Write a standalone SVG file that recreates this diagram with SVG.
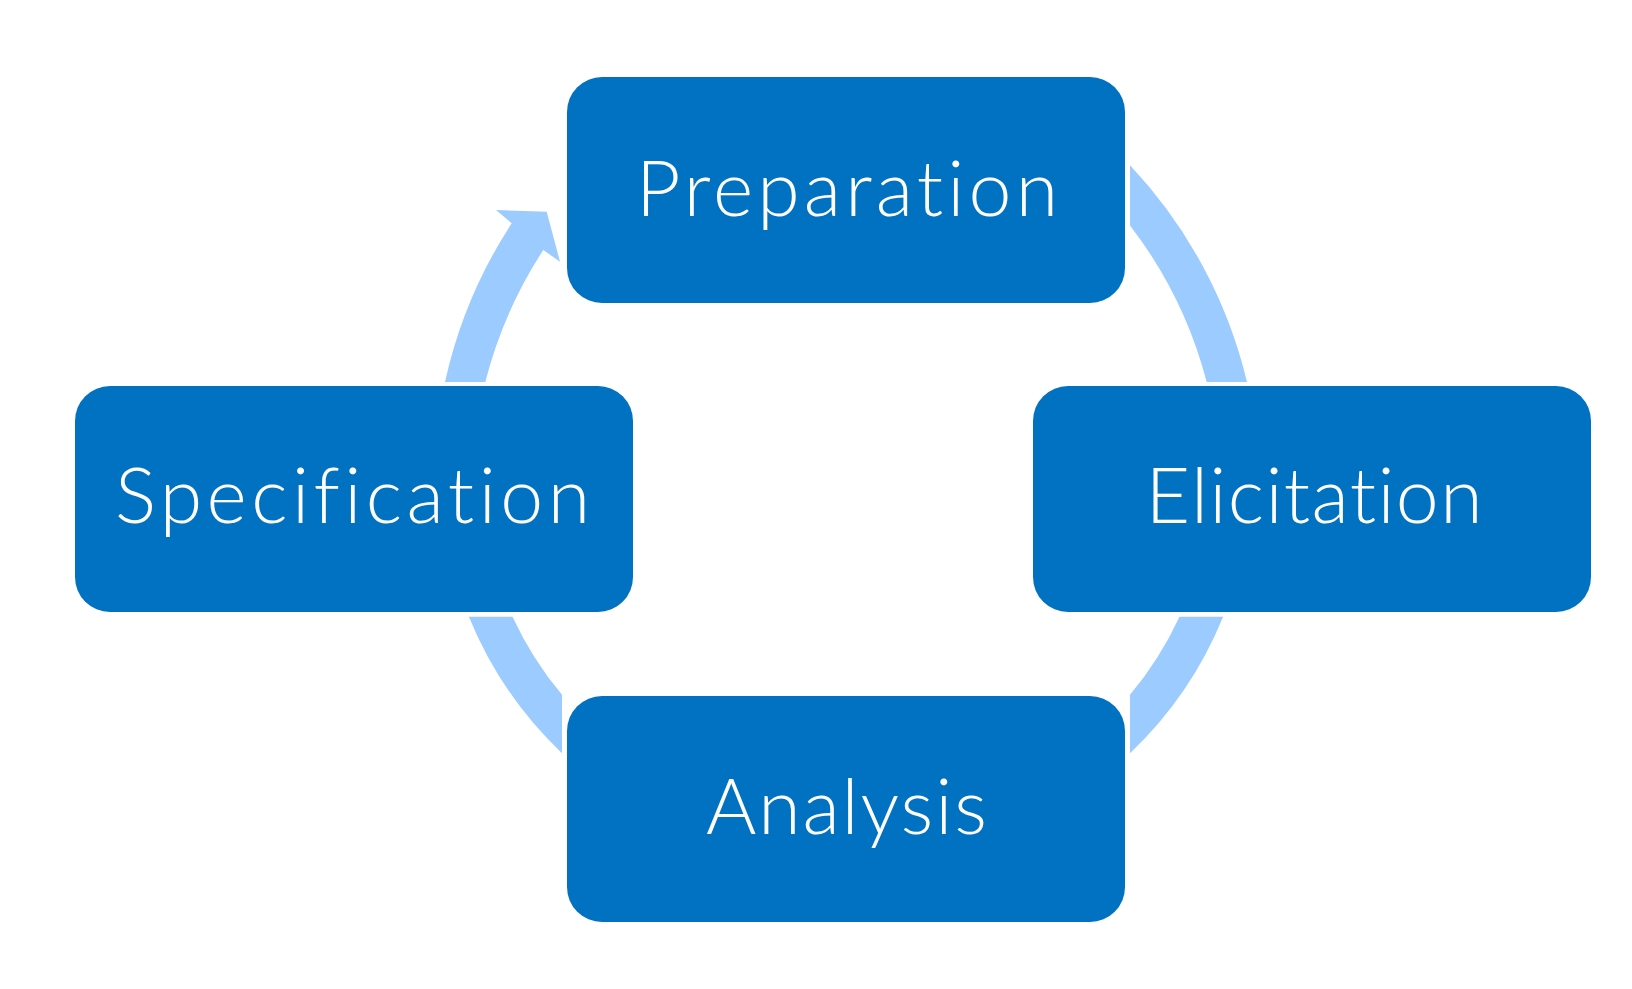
<svg xmlns="http://www.w3.org/2000/svg" width="1632" height="989" viewBox="0 0 1632 989">
  <style>
    .arc { fill: #9CCBFF; stroke: none; }
    .box { fill: #0171C1; stroke: #FFFFFF; stroke-width: 6; paint-order: stroke; }
    .lbl { fill: #FFFFFF; font-family: Lato, "Liberation Sans", Arial, sans-serif; font-weight: 300; font-size: 77px; text-anchor: middle; font-variant-ligatures: none; font-feature-settings: "liga" 0, "clig" 0; }
  </style>
  <rect x="0" y="0" width="1632" height="989" fill="#FFFFFF"/>
  <g id="connectors">
    <path class="arc" d="M 1130,165.3 A 478 478 0 0 1 1247,382 L 1206.7,382 A 439 439 0 0 0 1130,225.4 Z"/>
    <path class="arc" d="M 1223.1,616.7 A 392 392 0 0 1 1130,753.2 L 1130,694.8 A 352 352 0 0 0 1179.5,616.7 Z"/>
    <path class="arc" d="M 468.9,616.7 A 392 392 0 0 0 562,753.2 L 562,694.8 A 352 352 0 0 1 512.5,616.7 Z"/>
    <path class="arc" d="M 445,382 A 478 478 0 0 1 511.7,223.3 L 496,210 L 546.7,211.7 L 560,261.7 L 543.3,250 A 439 439 0 0 0 485.3,382 Z"/>
  </g>
  <g id="node-preparation">
    <rect class="box" x="567" y="77" width="558" height="226" rx="35" ry="35"/>
    <text class="lbl" x="847" y="215.5" textLength="422" lengthAdjust="spacing">Preparation</text>
  </g>
  <g id="node-elicitation">
    <rect class="box" x="1033" y="386" width="558" height="226" rx="35" ry="35"/>
    <text class="lbl" x="1314" y="523.3" textLength="337" lengthAdjust="spacing">Elicitation</text>
  </g>
  <g id="node-analysis">
    <rect class="box" x="567" y="696" width="558" height="226" rx="35" ry="35"/>
    <text class="lbl" x="846.5" y="834" textLength="281" lengthAdjust="spacing">Analysis</text>
  </g>
  <g id="node-specification">
    <rect class="box" x="75" y="386" width="558" height="226" rx="35" ry="35"/>
    <text class="lbl" x="352.5" y="523.3" textLength="475" lengthAdjust="spacing">Specification</text>
  </g>
</svg>
